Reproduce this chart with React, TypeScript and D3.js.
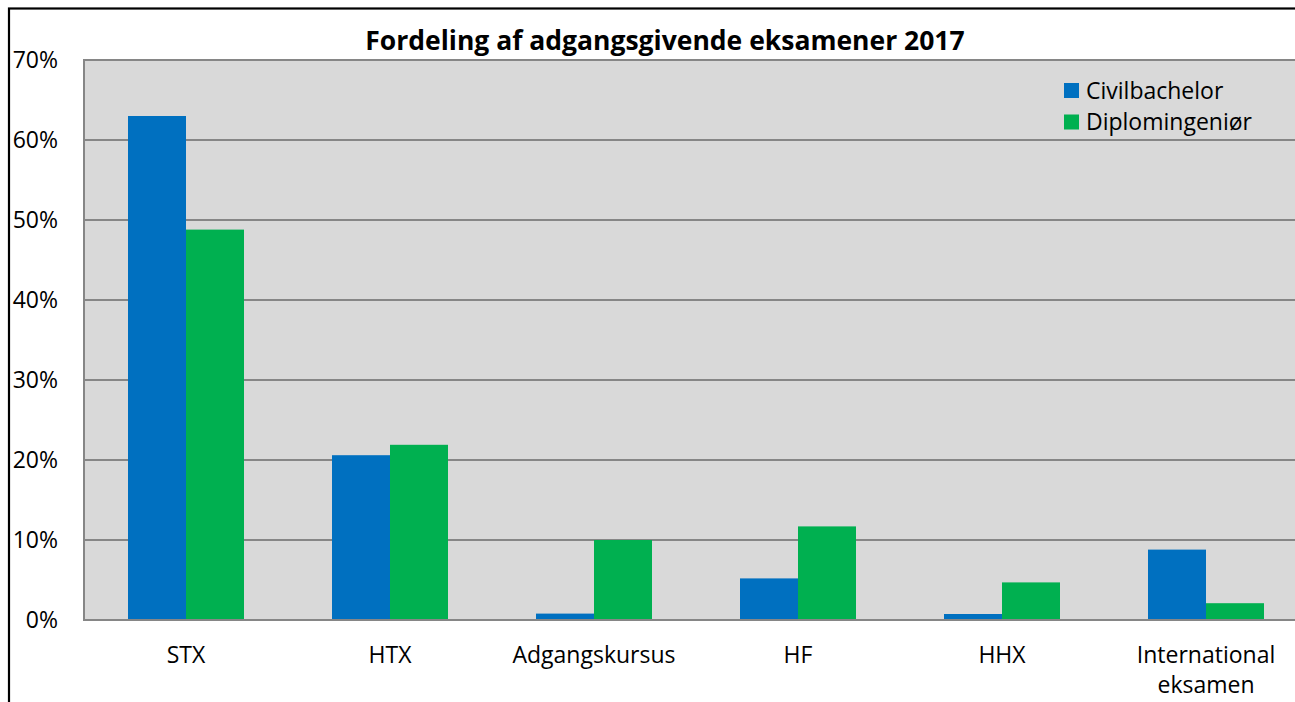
import { useEffect, useRef } from "react";
import * as d3 from "d3";

const categories = ["STX", "HTX", "Adgangskursus", "HF", "HHX", "International eksamen"];
const seriesNames = ["Civilbachelor", "Diplomingeniør"];
const civilbachelor = [0.63, 0.206, 0.008, 0.052, 0.0075, 0.088];
const diplomingenior = [0.488, 0.219, 0.1, 0.117, 0.047, 0.021];
const yTicks = [0, 0.1, 0.2, 0.3, 0.4, 0.5, 0.6, 0.7];
const colors = ["#0070c0", "#00b050"];

const FONT = "'Open Sans', 'Noto Sans', sans-serif";

export default function App() {
	const svgRef = useRef<SVGSVGElement>(null);

	useEffect(() => {
		if (!svgRef.current) return;
		const width = 1295;
		const height = 702;

		const svg = d3.select(svgRef.current);
		svg.selectAll("*").remove();

		// plot area runs past the right edge of the window, as in the reference
		const left = 84;
		const right = 1308;
		const top = 60;
		const bottom = 620;

		const x = d3
			.scaleBand()
			.domain(categories)
			.range([left, right])
			.paddingInner(88 / 204)
			.paddingOuter(44 / 204);
		const x1 = d3.scaleBand().domain(seriesNames).range([0, x.bandwidth()]);
		const y = d3.scaleLinear().domain([0, 0.7]).range([bottom, top]);

		svg
			.append("rect")
			.attr("width", width)
			.attr("height", height)
			.attr("fill", "#ffffff");

		// outer chart border
		svg
			.append("rect")
			.attr("x", 9)
			.attr("y", 8.5)
			.attr("width", 3000)
			.attr("height", 3000)
			.attr("fill", "none")
			.attr("stroke", "#000")
			.attr("stroke-width", 2.2);

		svg
			.append("rect")
			.attr("x", left)
			.attr("y", top)
			.attr("width", right - left)
			.attr("height", bottom - top)
			.attr("fill", "#d9d9d9")
			.attr("stroke", "#868686")
			.attr("stroke-width", 2);

		svg
			.append("g")
			.selectAll("line")
			.data(yTicks)
			.join("line")
			.attr("x1", left)
			.attr("x2", right)
			.attr("y1", (d) => y(d))
			.attr("y2", (d) => y(d))
			.attr("stroke", "#868686")
			.attr("stroke-width", 2);

		svg
			.append("g")
			.selectAll("text")
			.data(yTicks)
			.join("text")
			.attr("x", 58)
			.attr("y", (d) => y(d) + 8)
			.attr("text-anchor", "end")
			.attr("font-family", FONT)
			.attr("font-size", 23)
			.attr("fill", "#000")
			.text((d) => d3.format(".0%")(d));

		const rows = categories.map((c, i) => ({
			cat: c,
			values: [civilbachelor[i], diplomingenior[i]],
		}));

		const group = svg
			.append("g")
			.selectAll("g")
			.data(rows)
			.join("g")
			.attr("transform", (d) => `translate(${x(d.cat)},0)`);

		group
			.selectAll("rect")
			.data((d) => d.values.map((v, j) => ({ v, name: seriesNames[j], j })))
			.join("rect")
			.attr("x", (d) => x1(d.name) as number)
			.attr("width", x1.bandwidth())
			.attr("y", (d) => y(d.v))
			.attr("height", (d) => bottom - y(d.v))
			.attr("fill", (d) => colors[d.j]);

		// redraw baseline over bars
		svg
			.append("line")
			.attr("x1", left)
			.attr("x2", right)
			.attr("y1", bottom)
			.attr("y2", bottom)
			.attr("stroke", "#868686")
			.attr("stroke-width", 2);

		const xLabels = svg
			.append("g")
			.selectAll("text")
			.data(categories)
			.join("text")
			.attr("x", (d) => (x(d) as number) + x.bandwidth() / 2)
			.attr("y", 663)
			.attr("text-anchor", "middle")
			.attr("font-family", FONT)
			.attr("font-size", 23)
			.attr("fill", "#000");
		xLabels.each(function (d) {
			const words = d === "International eksamen" ? d.split(" ") : [d];
			const t = d3.select(this);
			words.forEach((w, k) => {
				t.append("tspan")
					.attr("x", (x(d) as number) + x.bandwidth() / 2)
					.attr("dy", k === 0 ? 0 : 30)
					.text(w);
			});
		});

		svg
			.append("text")
			.attr("x", 665)
			.attr("y", 50)
			.attr("text-anchor", "middle")
			.attr("font-family", FONT)
			.attr("font-weight", "bold")
			.attr("font-size", 26.5)
			.attr("fill", "#000")
			.text("Fordeling af adgangsgivende eksamener 2017");

		const legend = svg
			.append("g")
			.selectAll("g")
			.data(seriesNames)
			.join("g")
			.attr("transform", (d, i) => `translate(1064,${83 + i * 31.5})`);
		legend
			.append("rect")
			.attr("width", 15)
			.attr("height", 15)
			.attr("fill", (d, i) => colors[i]);
		legend
			.append("text")
			.attr("x", 22)
			.attr("y", 15.5)
			.attr("font-family", FONT)
			.attr("font-size", 23)
			.attr("fill", "#000")
			.text((d) => d);
	}, []);

	return (
		<svg
			ref={svgRef}
			width={1295}
			height={702}
			style={{ position: "absolute", left: 0, top: 0, display: "block" }}
		/>
	);
}
